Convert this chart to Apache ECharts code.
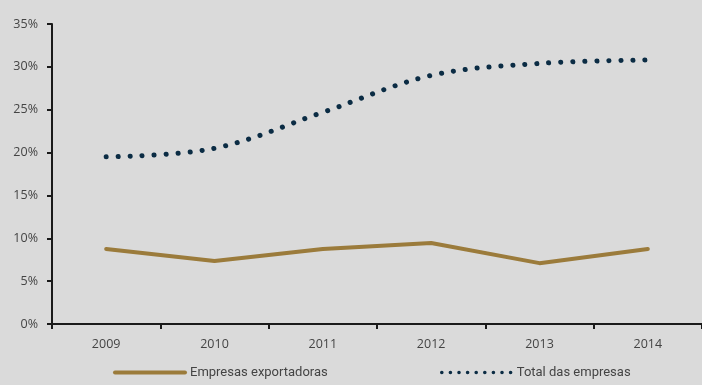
<!DOCTYPE html>
<html>
<head>
<meta charset="utf-8">
<script src="https://cdn.jsdelivr.net/npm/echarts@6/dist/echarts.min.js"></script>
<style>
  html, body { margin: 0; padding: 0; background: #dadada; }
  #chart { width: 702px; height: 385px; }
</style>
</head>
<body>
<div id="chart"></div>
<script>
// Years on the horizontal axis
const years = ['2009', '2010', '2011', '2012', '2013', '2014'];
// Share (%) for exporting companies
const exportadoras = [8.75, 7.35, 8.75, 9.45, 7.1, 8.75];
// Share (%) for all companies
const totalEmpresas = [19.5, 20.5, 24.7, 29.0, 30.4, 30.8];
// Series names
const nameExport = 'Empresas exportadoras';
const nameTotal = 'Total das empresas';

const gold = '#9b7b3b';
const navy = '#0b2c44';
const textColor = '#444';
const legendText = {
  color: textColor, fontSize: 13,
  fontFamily: 'Roboto, sans-serif'
};

const chart = echarts.init(document.getElementById('chart'));
chart.setOption({
  backgroundColor: '#dadada',
  animation: false,
  grid: { left: 52, right: 0, top: 24, bottom: 61, containLabel: false },
  legend: [
    {
      data: [nameExport], left: 113, top: 366, padding: 0,
      itemWidth: 70, itemHeight: 14, itemGap: 8,
      itemStyle: { opacity: 0 },
      lineStyle: { width: 4, cap: 'round' },
      textStyle: legendText
    },
    {
      data: [nameTotal], left: 440, top: 366, padding: 0,
      itemWidth: 70, itemHeight: 14, itemGap: 8,
      itemStyle: { opacity: 0 },
      lineStyle: { width: 3.5, type: [0.1, 8.5], cap: 'round' },
      textStyle: legendText
    }
  ],
  xAxis: {
    type: 'category',
    data: years,
    boundaryGap: true,
    axisLine: { lineStyle: { color: '#1a1a1a', width: 2 } },
    axisTick: { show: true, length: 5, lineStyle: { color: '#1a1a1a', width: 2 } },
    axisLabel: { color: textColor, fontSize: 12.5, margin: 14, fontFamily: '"Open Sans", sans-serif' },
    splitLine: { show: false }
  },
  yAxis: {
    type: 'value',
    min: 0, max: 35, interval: 5,
    axisLine: { show: true, lineStyle: { color: '#1a1a1a', width: 2 } },
    axisTick: { show: true, length: 5, lineStyle: { color: '#1a1a1a', width: 2 } },
    axisLabel: { color: textColor, fontSize: 12.5, margin: 14, formatter: '{value}%', fontFamily: '"Open Sans", sans-serif' },
    splitLine: { show: false }
  },
  series: [
    {
      name: nameExport,
      type: 'line',
      data: exportadoras,
      symbol: 'none',
      color: gold,
      lineStyle: { color: gold, width: 4, cap: 'round', join: 'round' }
    },
    {
      name: nameTotal,
      type: 'line',
      data: totalEmpresas,
      smooth: 0.35,
      symbol: 'none',
      color: navy,
      lineStyle: { color: navy, width: 5, type: [0.1, 11.9], cap: 'round' }
    }
  ]
});
</script>
</body>
</html>
